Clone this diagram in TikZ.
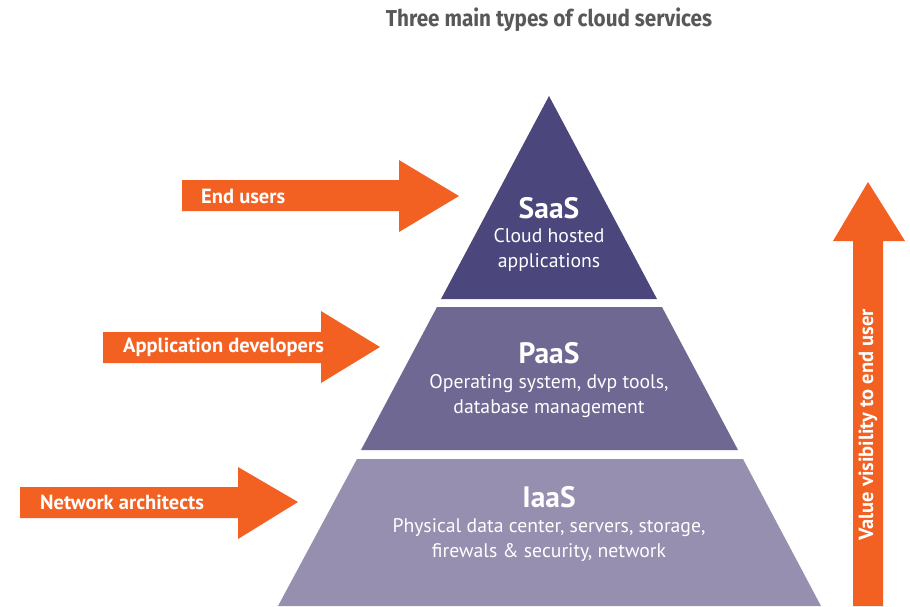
\documentclass[tikz,border=0pt]{standalone}
\usepackage{fontspec}
\setmainfont{PT Sans}
\newfontfamily\titlefont[FakeStretch=0.9]{Fira Sans}
\definecolor{orng}{RGB}{242,96,34}
\definecolor{saas}{RGB}{75,71,124}
\definecolor{paas}{RGB}{110,104,147}
\definecolor{iaas}{RGB}{150,143,176}
\definecolor{ttl}{RGB}{88,88,90}
\begin{document}
\begin{tikzpicture}[x=1pt,y=-1pt,
  lbl/.style={text=white,font=\bfseries\fontsize{20.5}{24}\selectfont,anchor=west,inner sep=0pt},
  head/.style={text=white,font=\bfseries\fontsize{29.5}{34}\selectfont,inner sep=0pt},
  body/.style={text=white,font=\fontsize{19.7}{25.5}\selectfont,align=center,inner sep=0pt}]
\useasboundingbox (0,0) rectangle (910,606);
% title
\node[font=\titlefont\bfseries\fontsize{23}{26}\selectfont,text=ttl,inner sep=0pt] (title) at (549,20) {Three main types of cloud services};
% pyramid
\fill[saas] (549,96) -- (657,299) -- (441,299) -- cycle;
\fill[paas] (437,307) -- (662,307) -- (738,450) -- (361,450) -- cycle;
\fill[iaas] (357,459) -- (743,459) -- (821,606) -- (278,606) -- cycle;
\node[head] (saash) at (549,208) {SaaS};
\node[body] (saasb) at (549,250) {Cloud hosted\\applications};
\node[head] (paash) at (549,353) {PaaS};
\node[body] (paasb) at (549,396) {Operating system, dvp tools,\\database management};
\node[head] (iaash) at (549,497) {IaaS};
\node[body] (iaasb) at (549,540) {Physical data center, servers, storage,\\firewals \& security, network};
% left arrows
\fill[orng] (182,180) -- (399,180) -- (399,160) -- (459,196) -- (399,232) -- (399,211) -- (182,211) -- cycle;
\fill[orng] (103,332) -- (321,332) -- (321,311) -- (380,347) -- (321,383) -- (321,363) -- (103,363) -- cycle;
\fill[orng] (20,487) -- (238,487) -- (238,467) -- (298,502) -- (238,539) -- (238,518) -- (20,518) -- cycle;
\node[lbl] (eu) at (201,196) {End users};
\node[lbl] (ad) at (123,347) {Application developers};
\node[lbl] (na) at (40,502) {Network architects};
% vertical arrow
\fill[orng] (853,606) -- (853,241) -- (833,241) -- (868,182) -- (905,241) -- (883,241) -- (883,606) -- cycle;
\node[lbl,anchor=center,rotate=90] (vv) at (868,425) {Value visibility to end user};
\end{tikzpicture}
\end{document}
